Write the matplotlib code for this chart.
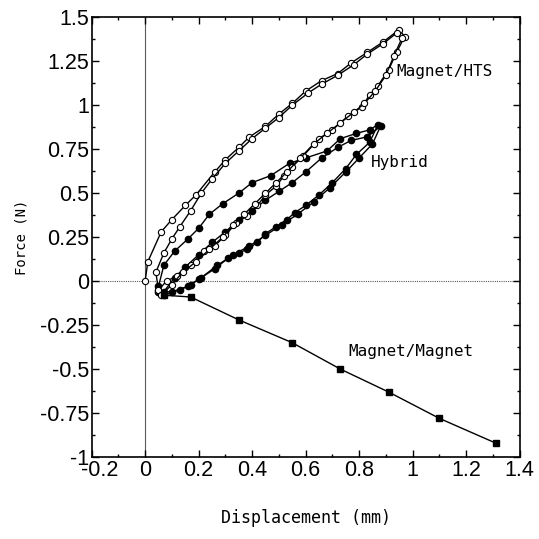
import numpy as np
import matplotlib
matplotlib.use("Agg")
import matplotlib.pyplot as plt
import matplotlib.transforms as mtransforms
from matplotlib.ticker import MultipleLocator

# Magnet/HTS (open circles), two cycles: up branch then down branch
hts1_x = [0.0, 0.01, 0.06, 0.10, 0.15, 0.19, 0.26, 0.30, 0.35, 0.39, 0.45, 0.50, 0.55, 0.60, 0.66, 0.72, 0.77, 0.83, 0.89, 0.95,
          0.97, 0.94, 0.91, 0.87, 0.84, 0.81, 0.76, 0.70, 0.65, 0.59, 0.55, 0.52, 0.49, 0.45, 0.42, 0.38, 0.34, 0.30, 0.26, 0.22, 0.17, 0.12, 0.08, 0.05]
hts1_y = [0.0, 0.11, 0.28, 0.35, 0.43, 0.49, 0.62, 0.69, 0.76, 0.82, 0.88, 0.95, 1.01, 1.08, 1.14, 1.18, 1.24, 1.30, 1.36, 1.43,
          1.39, 1.30, 1.20, 1.11, 1.06, 0.99, 0.94, 0.86, 0.81, 0.71, 0.65, 0.60, 0.54, 0.49, 0.43, 0.37, 0.33, 0.26, 0.20, 0.17, 0.09, 0.03, 0.0, -0.05]
hts2_x = [0.05, 0.04, 0.07, 0.10, 0.13, 0.17, 0.21, 0.25, 0.30, 0.35, 0.40, 0.45, 0.50, 0.55, 0.61, 0.66, 0.72, 0.78, 0.83, 0.89, 0.94,
          0.96, 0.93, 0.90, 0.86, 0.82, 0.78, 0.73, 0.68, 0.63, 0.58, 0.53, 0.49, 0.45, 0.41, 0.37, 0.33, 0.29, 0.24, 0.19, 0.14, 0.10, 0.06]
hts2_y = [-0.05, 0.05, 0.16, 0.24, 0.31, 0.40, 0.50, 0.58, 0.67, 0.74, 0.81, 0.87, 0.93, 1.00, 1.07, 1.12, 1.17, 1.23, 1.29, 1.35, 1.41,
          1.38, 1.28, 1.17, 1.08, 1.01, 0.96, 0.90, 0.84, 0.78, 0.70, 0.62, 0.56, 0.50, 0.44, 0.38, 0.32, 0.25, 0.18, 0.11, 0.05, -0.02, -0.08]

# Hybrid (filled circles)
hyb1_x = [0.07, 0.13, 0.17, 0.20, 0.26, 0.31, 0.35, 0.38, 0.42, 0.45, 0.49, 0.53, 0.56, 0.60, 0.65, 0.70, 0.75, 0.79, 0.84, 0.87,
          0.84, 0.79, 0.73, 0.68, 0.60, 0.54, 0.47, 0.40, 0.35, 0.29, 0.24, 0.20, 0.16, 0.11, 0.07, 0.05]
hyb1_y = [-0.08, -0.05, -0.02, 0.01, 0.07, 0.13, 0.16, 0.18, 0.22, 0.27, 0.31, 0.35, 0.39, 0.43, 0.49, 0.56, 0.64, 0.72, 0.79, 0.89,
          0.86, 0.84, 0.81, 0.74, 0.70, 0.67, 0.60, 0.56, 0.50, 0.44, 0.38, 0.30, 0.24, 0.17, 0.09, -0.03]
hyb2_x = [0.05, 0.10, 0.16, 0.21, 0.27, 0.33, 0.39, 0.45, 0.51, 0.57, 0.63, 0.69, 0.75, 0.80, 0.85, 0.88,
          0.83, 0.77, 0.72, 0.66, 0.60, 0.55, 0.50, 0.45, 0.40, 0.35, 0.30, 0.25, 0.20, 0.15, 0.11, 0.07]
hyb2_y = [-0.06, -0.06, -0.03, 0.02, 0.09, 0.15, 0.20, 0.26, 0.32, 0.38, 0.45, 0.53, 0.62, 0.70, 0.78, 0.88,
          0.82, 0.80, 0.76, 0.70, 0.62, 0.56, 0.51, 0.46, 0.40, 0.35, 0.28, 0.22, 0.15, 0.08, 0.02, -0.06]

# Magnet/Magnet (filled squares)
mm_x = [0.07, 0.17, 0.35, 0.55, 0.73, 0.91, 1.10, 1.31]
mm_y = [-0.08, -0.09, -0.22, -0.35, -0.50, -0.63, -0.78, -0.92]

x_ticks = [-0.2, 0, 0.2, 0.4, 0.6, 0.8, 1, 1.2, 1.4]
x_ticklabels = ["-0.2", "0", "0.2", "0.4", "0.6", "0.8", "1", "1.2", "1.4"]
y_ticks = [-1, -0.75, -0.5, -0.25, 0, 0.25, 0.5, 0.75, 1, 1.25, 1.5]
y_ticklabels = ["-1", "-0.75", "-0.5", "-0.25", "0", "0.25", "0.5", "0.75", "1", "1.25", "1.5"]

fig = plt.figure(figsize=(5.39, 5.39), dpi=100)
ax = fig.add_axes([0.170, 0.152, 0.794, 0.816])

ax.axvline(0, color='0.35', lw=0.8, zorder=1)
ax.axhline(0, color='0.35', lw=0.8, ls=(0, (1, 1)), zorder=1)

for xs, ys in [(hyb1_x, hyb1_y), (hyb2_x, hyb2_y)]:
    ax.plot(xs, ys, '-o', color='k', lw=1.0, ms=4.5, mfc='k', mec='k', zorder=3)
for xs, ys in [(hts1_x, hts1_y), (hts2_x, hts2_y)]:
    ax.plot(xs, ys, '-o', color='k', lw=1.0, ms=4.5, mfc='white', mec='k', mew=0.8, zorder=4)
ax.plot(mm_x, mm_y, '-s', color='k', lw=1.0, ms=5, mfc='k', zorder=5)

mono = 'DejaVu Sans Mono'
ax.text(0.94, 1.19, "Magnet/HTS", fontsize=11.5, family=mono, va='center', ha='left')
ax.text(0.845, 0.675, "Hybrid", fontsize=11.5, family=mono, va='center', ha='left')
ax.text(0.76, -0.40, "Magnet/Magnet", fontsize=11.5, family=mono, va='center', ha='left')

ax.set_xlim(-0.2, 1.4)
ax.set_ylim(-1, 1.5)
ax.set_xticks(x_ticks)
ax.set_xticklabels(x_ticklabels, fontfamily='Liberation Sans', fontsize=15.5)
ax.set_yticks(y_ticks)
ax.set_yticklabels(y_ticklabels, fontfamily='Liberation Sans', fontsize=15.5)
ax.xaxis.set_minor_locator(MultipleLocator(0.1))
ax.yaxis.set_minor_locator(MultipleLocator(0.125))
ax.tick_params(which='both', direction='in', top=True, right=True, width=1)
ax.tick_params(which='major', length=5, pad=2)
ax.tick_params(which='minor', length=2.5)
for s in ax.spines.values():
    s.set_linewidth(1.2)

# the corner label "-0.2" sits a little to the right, as in the original
lbl = ax.get_xticklabels()[0]
lbl.set_transform(lbl.get_transform() + mtransforms.ScaledTranslation(8/100, 0, fig.dpi_scale_trans))

ax.set_xlabel("Displacement (mm)", fontsize=12, family=mono, labelpad=20)
ax.set_ylabel("Force (N)", fontsize=10, family=mono, labelpad=8)

fig.savefig("out.png", dpi=100)
